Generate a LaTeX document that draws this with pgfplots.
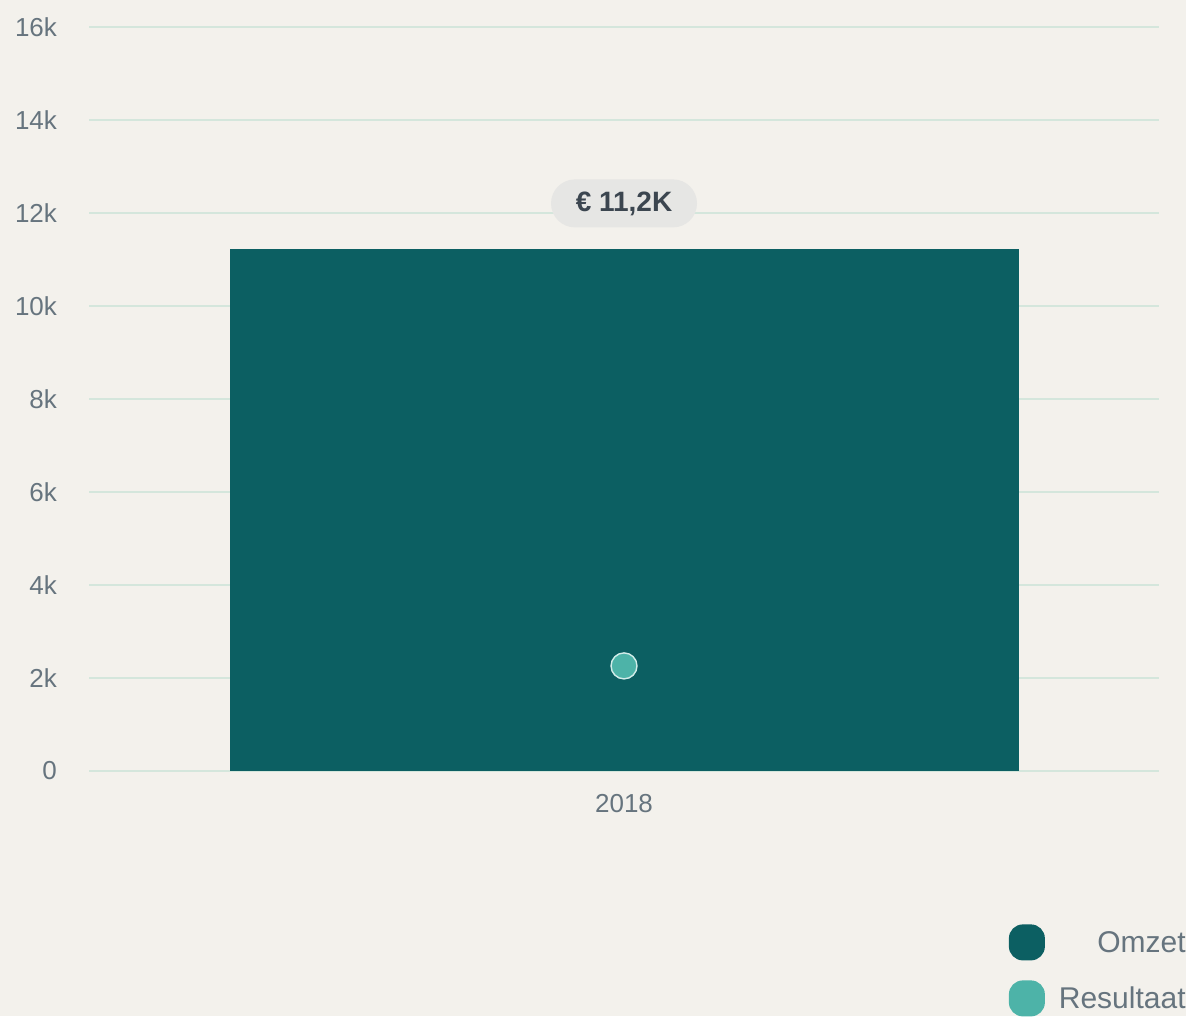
\documentclass[border=0pt]{standalone}
\usepackage{pgfplots}
\pgfplotsset{compat=1.18}
\usepackage{fontspec}
\setmainfont{Liberation Sans}

\definecolor{bgc}{HTML}{F3F1EC}
\definecolor{omzet}{HTML}{0C5F62}
\definecolor{result}{HTML}{4DB3A8}
\definecolor{gridc}{HTML}{D4E6DC}
\definecolor{tickc}{HTML}{66747E}
\definecolor{pillc}{HTML}{E6E6E4}
\definecolor{pillt}{HTML}{3C4650}

\begin{document}
\begin{tikzpicture}[x=1pt,y=1pt]
  \fill[bgc] (0,0) rectangle (593,508);
  \begin{axis}[
      at={(44.5pt,122.5pt)}, anchor=south west,
      scale only axis, width=535pt, height=372pt,
      xmin=-0.5, xmax=0.5, ymin=0, ymax=16000,
      axis lines=left, axis line style={draw=none},
      major tick length=0pt,
      scaled y ticks=false,
      xtick={0}, xticklabels={2018},
      ytick={0,2000,4000,6000,8000,10000,12000,14000,16000},
      yticklabels={0,2k,4k,6k,8k,10k,12k,14k,16k},
      ymajorgrids=true,
      grid style={gridc, line width=1pt},
      tick label style={font=\fontsize{13}{15}\selectfont, text=tickc},
      yticklabel style={anchor=east, xshift=-12.5pt},
      xticklabel style={yshift=-8pt},
      legend cell align=right,
      legend image code/.code={\path[#1, rounded corners=7pt] (0pt,-8.6pt) rectangle (18pt,9.4pt);},
      legend style={draw=none, fill=none, at={(1,0)}, anchor=north east,
        xshift=15.5pt, yshift=-76.5pt, inner sep=0pt,
        font=\fontsize{15}{18}\selectfont, text=tickc,
        row sep=10pt,
        /tikz/every odd column/.append style={column sep=5pt}},
    ]
    \addplot[ybar, bar width=394.5pt, fill=omzet, draw=none, forget plot,
      nodes near coords={\textbf{€ 11,2K}},
      every node near coord/.append style={fill=pillc, text=pillt,
        rounded corners=12pt, minimum width=73pt, minimum height=24pt,
        inner sep=0pt, anchor=south, yshift=10.5pt,
        font=\fontsize{14}{16}\selectfont}]
      coordinates {(0,11230)};
    \addplot[only marks, mark=*, mark size=6.5pt, forget plot,
      mark options={fill=result, draw=white!75!result, line width=0.7pt}]
      coordinates {(0,2260)};
    \addlegendimage{fill=omzet, draw=none}
    \addlegendentry{Omzet}
    \addlegendimage{fill=result, draw=none}
    \addlegendentry{Resultaat}
  \end{axis}
  \pgfresetboundingbox
  \path[use as bounding box] (0,0) rectangle (593,508);
\end{tikzpicture}
\end{document}
